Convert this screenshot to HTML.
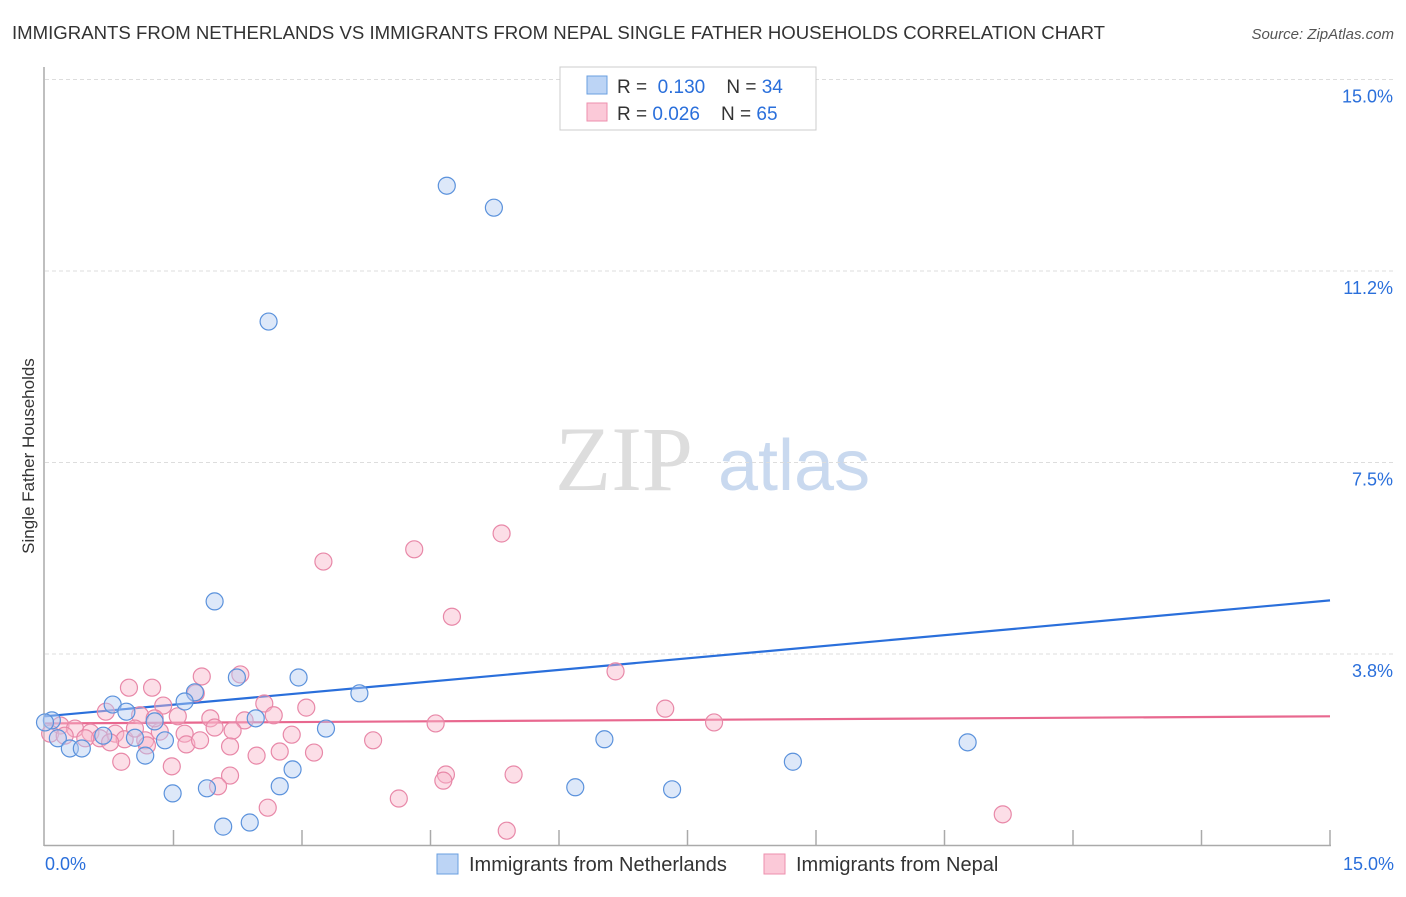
<!DOCTYPE html>
<html><head><meta charset="utf-8"><style>
body{margin:0;background:#fff;font-family:"Liberation Sans",sans-serif}
</style></head><body>
<svg width="1406" height="892" xmlns="http://www.w3.org/2000/svg" font-family="Liberation Sans, sans-serif">
<text x="12" y="39" font-size="18.6" fill="#333">IMMIGRANTS FROM NETHERLANDS VS IMMIGRANTS FROM NEPAL SINGLE FATHER HOUSEHOLDS CORRELATION CHART</text>
<text x="1394" y="39" font-size="15" fill="#555" font-style="italic" text-anchor="end">Source: ZipAtlas.com</text>
<g>
<text x="555" y="490" font-size="92" font-family="Liberation Serif, serif" fill="#ddd">ZIP</text>
<text x="718" y="490" font-size="72" fill="#c9d9ef">atlas</text>
</g>
<g id="grid"></g>
<g id="axes"></g>
<text transform="translate(34,456) rotate(-90)" font-size="17" fill="#333" text-anchor="middle">Single Father Households</text>
<g id="lines"></g>
<g id="pts"></g>
<g>
<rect x="560" y="67" width="256" height="63" fill="#fff" stroke="#ccc"/>
<rect x="587" y="76" width="20" height="18" fill="#bcd4f5" stroke="#6a9fe0"/>
<rect x="587" y="103" width="20" height="18" fill="#fbc9d8" stroke="#ee8fae"/>
<text x="617" y="93" font-size="19" fill="#333">R = <tspan fill="#2a6fdb">&#160;0.130</tspan>&#160;&#160;&#160;&#160;N = <tspan fill="#2a6fdb">34</tspan></text>
<text x="617" y="120" font-size="19" fill="#333">R = <tspan fill="#2a6fdb">0.026</tspan>&#160;&#160;&#160;&#160;N = <tspan fill="#2a6fdb">65</tspan></text>
</g>
<g>
<rect x="437" y="854" width="21" height="20" fill="#bcd4f5" stroke="#6a9fe0"/>
<text x="469" y="871" font-size="20" fill="#333">Immigrants from Netherlands</text>
<rect x="764" y="854" width="21" height="20" fill="#fbc9d8" stroke="#ee8fae"/>
<text x="796" y="871" font-size="20" fill="#333">Immigrants from Nepal</text>
</g>
<text x="45" y="870" font-size="18" fill="#2a6fdb">0.0%</text>
<text x="1394" y="870" font-size="18" fill="#2a6fdb" text-anchor="end">15.0%</text>
</svg>
<script>
const yTicks=[3.75,7.5,11.25,15];
const yTickLabels=["3.8%","7.5%","11.2%","15.0%"];
const xTicks=[1.5,3,4.5,6,7.5,9,10.5,12,13.5,15];
const blueX=[4.69,5.24,2.61,1.98,2.96,3.67,2.24,1.75,1.63,0.79,0.95,1.28,2.46,3.28,0.08,0.15,0.29,0.43,0.68,1.05,1.40,1.17,6.53,10.77,8.73,2.89,2.74,1.89,1.49,6.19,7.32,2.08,2.39,0.0];
const blueY=[12.92,12.49,10.26,4.78,3.29,2.98,3.29,3.00,2.82,2.76,2.62,2.43,2.49,2.29,2.45,2.10,1.90,1.90,2.15,2.11,2.06,1.76,2.08,2.02,1.64,1.49,1.16,1.12,1.02,1.14,1.10,0.37,0.45,2.41];
const pinkX=[5.33,4.31,3.25,4.75,6.66,2.28,1.83,1.25,0.98,1.76,2.56,3.05,7.24,1.38,0.71,1.55,1.93,2.33,2.67,4.56,7.81,1.11,0.18,0.35,0.53,0.64,0.82,0.93,1.17,1.34,1.63,1.98,2.19,2.88,3.83,1.65,1.19,2.47,2.74,3.14,0.89,1.48,2.16,4.68,5.47,4.65,2.02,2.60,4.13,11.18,5.39,0.06,0.23,0.47,0.76,1.05,1.28,1.81,2.16];
const pinkY=[6.11,5.80,5.56,4.48,3.41,3.35,3.31,3.09,3.09,2.98,2.78,2.70,2.68,2.74,2.62,2.53,2.49,2.45,2.55,2.39,2.41,2.55,2.35,2.29,2.21,2.10,2.19,2.08,2.06,2.23,2.19,2.31,2.25,2.17,2.06,1.98,1.96,1.76,1.84,1.82,1.64,1.55,1.37,1.39,1.39,1.27,1.16,0.74,0.92,0.61,0.29,2.19,2.15,2.10,2.02,2.29,2.49,2.06,1.94];
const blueTrend=[2.53,4.80];
const pinkTrend=[2.39,2.53];
const X=v=>45+v/15*1285, Y=v=>845.5-v/3.75*191.5;
const NS="http://www.w3.org/2000/svg";
function mk(t,a,p){const e=document.createElementNS(NS,t);for(const k in a)e.setAttribute(k,a[k]);p.appendChild(e);return e;}
const grid=document.getElementById('grid'),axes=document.getElementById('axes');
yTicks.forEach((t,i)=>{
 const l=mk('line',{x1:45,x2:1394,y1:Y(t),y2:Y(t),stroke:'#ddd','stroke-dasharray':'4,3'},grid);
 
 
 const tx=mk('text',{x:1393,y:Y(t)+23,'font-size':18,fill:'#2a6fdb','text-anchor':'end'},grid);
 tx.textContent=yTickLabels[i];
 
 
});
mk('line',{x1:44,x2:44,y1:67,y2:846,stroke:'#aaa','stroke-width':1.5},axes);
mk('line',{x1:44,x2:1331,y1:845.5,y2:845.5,stroke:'#aaa','stroke-width':1.5},axes);
xTicks.forEach(t=>{
 const l=mk('line',{x1:X(t),x2:X(t),y1:830,y2:846,stroke:'#aaa','stroke-width':1.5},axes);
 
 
});
const pts=document.getElementById('pts');
function series(xs,ys,fill,stroke,name){
 xs.forEach((x,i)=>{
  const c=mk('circle',{cx:X(x),cy:Y(ys[i]),r:8.5,fill:fill,'fill-opacity':0.45,stroke:stroke,'stroke-width':1.2},pts);
  
  
 });
}
series(pinkX,pinkY,'#f8b6ca','#e888a8','point-nepal');
series(blueX,blueY,'#b3cdf2','#5b92dc','point-netherlands');
const lines=document.getElementById('lines');
const bl=mk('line',{x1:X(0),x2:X(15),y1:Y(blueTrend[0]),y2:Y(blueTrend[1]),stroke:'#2a6fdb','stroke-width':2.2},lines);


const pl=mk('line',{x1:X(0),x2:X(15),y1:Y(pinkTrend[0]),y2:Y(pinkTrend[1]),stroke:'#e8688f','stroke-width':2.2},lines);


</script>
</body></html>
